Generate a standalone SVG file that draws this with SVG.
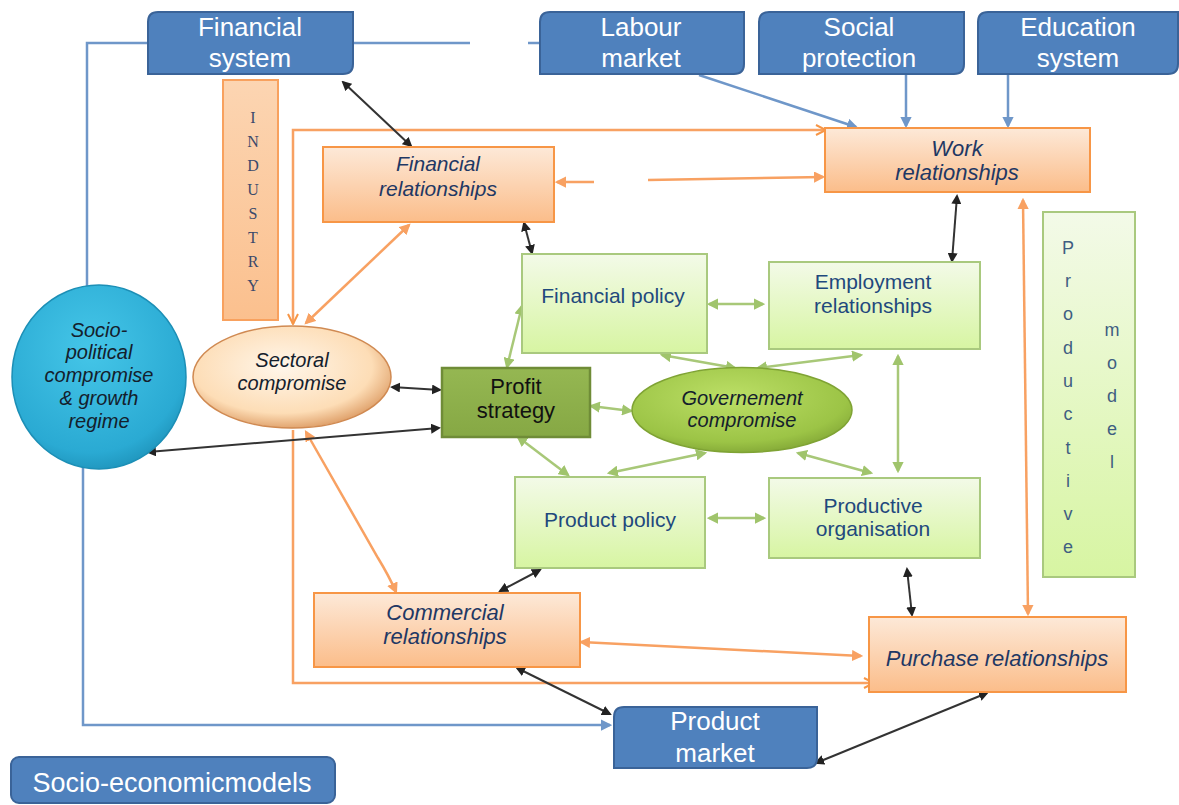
<svg xmlns="http://www.w3.org/2000/svg" width="1179" height="805" viewBox="0 0 1179 805">
<style>
.hdr{font-family:"Liberation Sans",Arial,sans-serif;font-size:26px;fill:#fff;text-anchor:middle}
.it{font-family:"Liberation Sans",Arial,sans-serif;font-size:22px;font-style:italic;fill:#1F3864;text-anchor:middle}
.gb{font-family:"Liberation Sans",Arial,sans-serif;font-size:21px;fill:#1F497D;text-anchor:middle}
.ov{font-family:"Liberation Sans",Arial,sans-serif;font-size:20px;font-style:italic;fill:#14202c;text-anchor:middle}
.blue{fill:#4F81BD;stroke:#3A6398;stroke-width:2}
.obox{fill:url(#gOrange);stroke:#F79646;stroke-width:2}
.gbox{fill:url(#gGreen);stroke:#A9C97E;stroke-width:2}
.vl{font-family:"Liberation Sans",Arial,sans-serif;font-size:18px;fill:#3F5E82;text-anchor:middle}
.vs{font-family:"Liberation Serif","Times New Roman",serif;font-size:16px;fill:#3B4A6B;text-anchor:middle}
.cb{fill:none;stroke:#333;stroke-width:2;marker-start:url(#aK);marker-end:url(#aK)}
.cg{fill:none;stroke:#A8C878;stroke-width:2.5;marker-start:url(#aG);marker-end:url(#aG)}
.co{fill:none;stroke:#F8A162;stroke-width:2.5}
.cbl{fill:none;stroke:#6F97C9;stroke-width:2.5}
</style>
<defs>
<linearGradient id="gOrange" x1="0" y1="0" x2="0" y2="1"><stop offset="0" stop-color="#FDE9D8"/><stop offset="1" stop-color="#FBBD8A"/></linearGradient>
<linearGradient id="gGreen" x1="0" y1="0" x2="0" y2="1"><stop offset="0" stop-color="#F3FAE8"/><stop offset="1" stop-color="#D7F5A2"/></linearGradient>
<linearGradient id="gInd" x1="0" y1="0" x2="0" y2="1"><stop offset="0" stop-color="#FCD5B2"/><stop offset="1" stop-color="#FBC08E"/></linearGradient>
<linearGradient id="gProfit" x1="0" y1="0" x2="0" y2="1"><stop offset="0" stop-color="#95B752"/><stop offset="1" stop-color="#86A844"/></linearGradient>
<radialGradient id="gGov" cx="0.45" cy="0.35" r="0.7"><stop offset="0" stop-color="#BCDF66"/><stop offset="0.75" stop-color="#9CC446"/><stop offset="1" stop-color="#7FA334"/></radialGradient>
<radialGradient id="gSocio" cx="0.45" cy="0.35" r="0.7"><stop offset="0" stop-color="#45C6E8"/><stop offset="0.8" stop-color="#2AAAD3"/><stop offset="1" stop-color="#1C8FB6"/></radialGradient>
<radialGradient id="gSect" cx="0.45" cy="0.4" r="0.65"><stop offset="0" stop-color="#FFF6EA"/><stop offset="0.7" stop-color="#FDDDB6"/><stop offset="1" stop-color="#D89258"/></radialGradient>
<marker id="aK" viewBox="0 0 10 10" refX="8" refY="5" markerWidth="5" markerHeight="5" orient="auto-start-reverse"><path d="M0,0 L10,5 L0,10 z" fill="#222"/></marker>
<marker id="aG" viewBox="0 0 10 10" refX="8" refY="5" markerWidth="4.5" markerHeight="4.5" orient="auto-start-reverse"><path d="M0,0 L10,5 L0,10 z" fill="#A0C46C"/></marker>
<marker id="aO" viewBox="0 0 10 10" refX="8" refY="5" markerWidth="4.5" markerHeight="4.5" orient="auto-start-reverse"><path d="M0,0 L10,5 L0,10 z" fill="#F8A162"/></marker>
<marker id="aOo" viewBox="0 0 10 10" refX="9" refY="5" markerWidth="5" markerHeight="5" orient="auto-start-reverse"><path d="M1,1 L9,5 L1,9" fill="none" stroke="#F79646" stroke-width="1.6"/></marker>
<marker id="aB" viewBox="0 0 10 10" refX="8" refY="5" markerWidth="4.5" markerHeight="4.5" orient="auto-start-reverse"><path d="M0,0 L10,5 L0,10 z" fill="#6F97C9"/></marker>
</defs>
<rect width="1179" height="805" fill="#fff"/>

<g id="connectors">
<path class="cbl" d="M148,43 H87 V286"/>
<path class="cbl" d="M83,468 V725 H610" marker-end="url(#aB)"/>
<path class="cbl" d="M353,43 H470"/>
<path class="cbl" d="M528,43 H540"/>
<path class="cbl" d="M699,75 L856,127" marker-end="url(#aB)"/>
<path class="cbl" d="M906,75 V126" marker-end="url(#aB)"/>
<path class="cbl" d="M1008,75 V126" marker-end="url(#aB)"/>
<path class="co" d="M826,130 H293 V324" stroke="#F79646" marker-start="url(#aOo)" marker-end="url(#aOo)"/>
<path class="co" d="M293,430 V683 H874" stroke="#F79646" marker-end="url(#aOo)"/>
<path class="co" d="M594,182 H557" marker-end="url(#aO)"/>
<path class="co" d="M648,180 L823,177" marker-end="url(#aO)"/>
<path class="co" d="M306,323 L409,225" marker-start="url(#aO)" marker-end="url(#aO)"/>
<path class="co" d="M306,432 L378,558 Q389,576 396,592" marker-start="url(#aO)" marker-end="url(#aO)"/>
<path class="co" d="M581,642 L861,656" marker-start="url(#aO)" marker-end="url(#aO)"/>
<path class="co" d="M1023,200 L1028,614" marker-start="url(#aO)" marker-end="url(#aO)"/>
<path class="cb" d="M343,82 L411,146"/>
<path class="cb" d="M524,223 L532,253"/>
<path class="cb" d="M957,196 L952,261"/>
<path class="cb" d="M392,387 L440,390"/>
<path class="cb" d="M439,428 L148,452"/>
<path class="cb" d="M500,591 L540,570"/>
<path class="cb" d="M907,569 L912,615"/>
<path class="cb" d="M517,668 L610,714"/>
<path class="cb" d="M816,763 L987,693"/>
<path class="cg" d="M507,367 L522,306"/>
<path class="cg" d="M518,437 L568,475"/>
<path class="cg" d="M591,406 L631,411"/>
<path class="cg" d="M709,304 H763"/>
<path class="cg" d="M709,518 H764"/>
<path class="cg" d="M898,356 V471"/>
<path class="cg" d="M662,355 L735,368"/>
<path class="cg" d="M758,368 L861,355"/>
<path class="cg" d="M705,453 L609,473"/>
<path class="cg" d="M798,453 L871,473"/>
</g>

<g id="financial-system"><path class="blue" d="M158,12 H353 V64 Q353,74 343,74 H148 V22 Q148,12 158,12 Z"/><text class="hdr" x="250" y="36">Financial</text><text class="hdr" x="250" y="67">system</text></g>
<g id="labour-market"><path class="blue" d="M550,12 H744 V64 Q744,74 734,74 H540 V22 Q540,12 550,12 Z"/><text class="hdr" x="641" y="36">Labour</text><text class="hdr" x="641" y="67">market</text></g>
<g id="social-protection"><path class="blue" d="M769,12 H964 V64 Q964,74 954,74 H759 V22 Q759,12 769,12 Z"/><text class="hdr" x="859" y="36">Social</text><text class="hdr" x="859" y="67">protection</text></g>
<g id="education-system"><path class="blue" d="M988,12 H1178 V64 Q1178,74 1168,74 H978 V22 Q978,12 988,12 Z"/><text class="hdr" x="1078" y="36">Education</text><text class="hdr" x="1078" y="67">system</text></g>

<g id="industry"><rect x="223" y="80" width="55" height="240" fill="url(#gInd)" stroke="#F8A15E" stroke-width="2"/>
<text class="vs" x="253" y="123">I</text><text class="vs" x="253" y="147">N</text><text class="vs" x="253" y="171">D</text><text class="vs" x="253" y="195">U</text><text class="vs" x="253" y="219">S</text><text class="vs" x="253" y="243">T</text><text class="vs" x="253" y="267">R</text><text class="vs" x="253" y="291">Y</text></g>

<g id="financial-relationships"><rect class="obox" x="323" y="147" width="231" height="75"/><text class="it" x="438" y="171" style="font-size:21px">Financial</text><text class="it" x="438" y="196" style="font-size:21px">relationships</text></g>
<g id="work-relationships"><rect class="obox" x="825" y="128" width="265" height="64"/><text class="it" x="957" y="156">Work</text><text class="it" x="957" y="180">relationships</text></g>

<g id="productive-model"><rect class="gbox" x="1043" y="212" width="92" height="365"/>
<text class="vl" x="1068" y="254">P</text><text class="vl" x="1068" y="287">r</text><text class="vl" x="1068" y="320">o</text><text class="vl" x="1068" y="354">d</text><text class="vl" x="1068" y="387">u</text><text class="vl" x="1068" y="420">c</text><text class="vl" x="1068" y="454">t</text><text class="vl" x="1068" y="487">i</text><text class="vl" x="1068" y="520">v</text><text class="vl" x="1068" y="553">e</text>
<text class="vl" x="1112" y="336">m</text><text class="vl" x="1112" y="369">o</text><text class="vl" x="1112" y="402">d</text><text class="vl" x="1112" y="435">e</text><text class="vl" x="1112" y="468">l</text></g>

<g id="socio-political"><ellipse cx="99" cy="377" rx="87" ry="92" fill="url(#gSocio)" stroke="#1C8FB6" stroke-width="1.5"/>
<text class="ov" x="99" y="337">Socio-</text><text class="ov" x="99" y="359">political</text><text class="ov" x="99" y="382">compromise</text><text class="ov" x="99" y="405">&amp; growth</text><text class="ov" x="99" y="428">regime</text></g>

<g id="sectoral-compromise"><ellipse cx="292" cy="377" rx="99" ry="51" fill="url(#gSect)" stroke="#D08A52" stroke-width="1.5"/><text class="ov" x="292" y="367">Sectoral</text><text class="ov" x="292" y="390">compromise</text></g>

<g id="profit-strategy"><rect x="442" y="368" width="148" height="69" fill="url(#gProfit)" stroke="#6F8C37" stroke-width="2.5"/><text class="gb" x="516" y="394" style="fill:#111;font-size:22px">Profit</text><text class="gb" x="516" y="418" style="fill:#111;font-size:22px">strategy</text></g>

<g id="financial-policy"><rect class="gbox" x="522" y="254" width="185" height="99"/><text class="gb" x="613" y="303">Financial policy</text></g>
<g id="employment-relationships"><rect class="gbox" x="769" y="262" width="211" height="87"/><text class="gb" x="873" y="289">Employment</text><text class="gb" x="873" y="313">relationships</text></g>

<g id="governement-compromise"><ellipse cx="742" cy="410" rx="110" ry="42.5" fill="url(#gGov)" stroke="#7FA334" stroke-width="1.5"/><text class="ov" x="742" y="405">Governement</text><text class="ov" x="742" y="427">compromise</text></g>

<g id="product-policy"><rect class="gbox" x="515" y="477" width="190" height="91"/><text class="gb" x="610" y="527">Product policy</text></g>
<g id="productive-organisation"><rect class="gbox" x="769" y="478" width="211" height="80"/><text class="gb" x="873" y="513">Productive</text><text class="gb" x="873" y="536">organisation</text></g>

<g id="commercial-relationships"><rect class="obox" x="314" y="593" width="266" height="74"/><text class="it" x="445" y="620">Commercial</text><text class="it" x="445" y="644">relationships</text></g>
<g id="purchase-relationships"><rect class="obox" x="869" y="617" width="257" height="75"/><text class="it" x="997" y="666">Purchase relationships</text></g>

<g id="product-market"><path class="blue" d="M624,707 H817 V758 Q817,768 807,768 H614 V717 Q614,707 624,707 Z"/><text class="hdr" x="715" y="730">Product</text><text class="hdr" x="715" y="762">market</text></g>

<g id="socio-economic-models"><rect class="blue" x="11" y="757" width="324" height="46" rx="8"/><text class="hdr" x="172" y="792" style="font-size:27px">Socio-economicmodels</text></g>
</svg>
